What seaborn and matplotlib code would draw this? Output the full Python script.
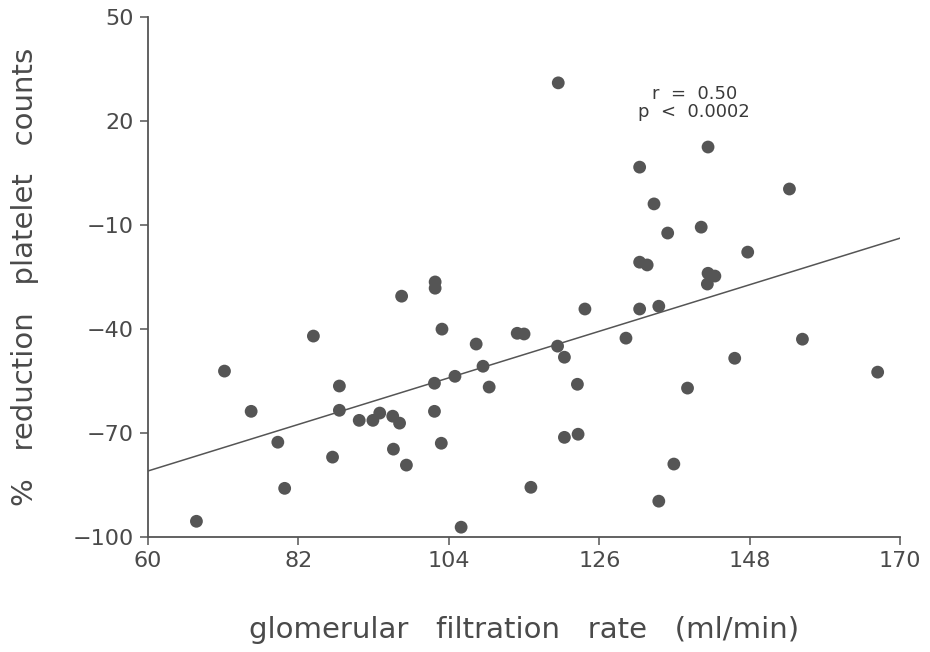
"""Scatter: % reduction of platelet counts vs glomerular filtration rate."""

import matplotlib
matplotlib.use("Agg")
import matplotlib.pyplot as plt
import pandas as pd
import seaborn as sns

# valores
gfr = [
    67.1, 71.2, 75.1, 79.0, 80.0, 84.2, 88.0, 88.0, 87.0, 90.9,
    92.9, 93.9, 95.8, 95.9, 96.8, 97.1, 97.8, 101.9, 101.9, 102.0,
    102.0, 102.9, 103.0, 104.9, 105.8, 108.0, 109.0, 109.9, 114.0, 115.0,
    116.0, 120.0, 119.9, 120.9, 120.9, 122.8, 122.9, 123.9, 129.9, 131.9,
    131.9, 131.9, 133.0, 134.0, 134.7, 134.7, 136.0, 136.9, 138.9, 140.9,
    141.9, 141.9, 142.9, 141.8, 145.8, 147.7, 153.8, 155.7, 166.7,
]
reduction = [
    -95.4, -52.1, -63.7, -72.6, -85.9, -42.0, -56.4, -63.4, -76.9, -66.3,
    -66.3, -64.2, -65.1, -74.6, -67.1, -30.5, -79.2, -55.6, -63.7, -26.4,
    -28.2, -72.9, -40.0, -53.6, -97.1, -44.3, -50.7, -56.7, -41.2, -41.4,
    -85.6, 31.0, -44.9, -48.1, -71.2, -55.9, -70.3, -34.2, -42.6, 6.7,
    -20.7, -34.2, -21.5, -3.9, -33.4, -89.6, -12.3, -78.9, -57.0, -10.6,
    12.5, -23.9, -24.7, -27.0, -48.4, -17.8, 0.4, -42.9, -52.4,
]
x_ticks = [60, 82, 104, 126, 148, 170]
y_ticks = [50, 20, -10, -40, -70, -100]
stats_text = "r  =  0.50\np  <  0.0002"

df = pd.DataFrame({"GFR": gfr, "RED": reduction})

sns.set_style("ticks")
plt.rcParams["font.family"] = ["DejaVu Sans"]

grey = "#555555"
txt = "#4a4a4a"
fig = plt.figure(figsize=(9.3, 6.52), dpi=100)
ax = fig.add_axes([0.159, 0.176, 0.809, 0.798])
ax.set_xlim(60, 170)
ax.set_ylim(-100, 50)

sns.regplot(
    data=df, x="GFR", y="RED", scatter=False, ci=None, truncate=False,
    line_kws={"color": grey, "linewidth": 1.1}, ax=ax,
)
sns.scatterplot(
    data=df, x="GFR", y="RED", color=grey, s=85, edgecolor="none", ax=ax,
)
ax.set_xlim(60, 170)
ax.set_ylim(-100, 50)

ax.set_xticks(x_ticks)
ax.set_yticks(y_ticks)
ax.tick_params(colors=grey, labelcolor=txt, labelsize=16,
               length=6, width=1.1, direction="out", pad=4)
sns.despine(ax=ax)
for s in ["left", "bottom"]:
    ax.spines[s].set_color(grey)
    ax.spines[s].set_linewidth(1.3)

ax.set_xlabel("glomerular   filtration   rate   (ml/min)", fontsize=21,
              color=txt, labelpad=32)
ax.set_ylabel("%   reduction   platelet   counts", fontsize=21,
              color=txt, labelpad=24)

ax.text(139.9, 25.2, stats_text, ha="center", va="center", fontsize=13,
        color="#3a3a3a", linespacing=1.05)

fig.savefig("out.png", dpi=100)
